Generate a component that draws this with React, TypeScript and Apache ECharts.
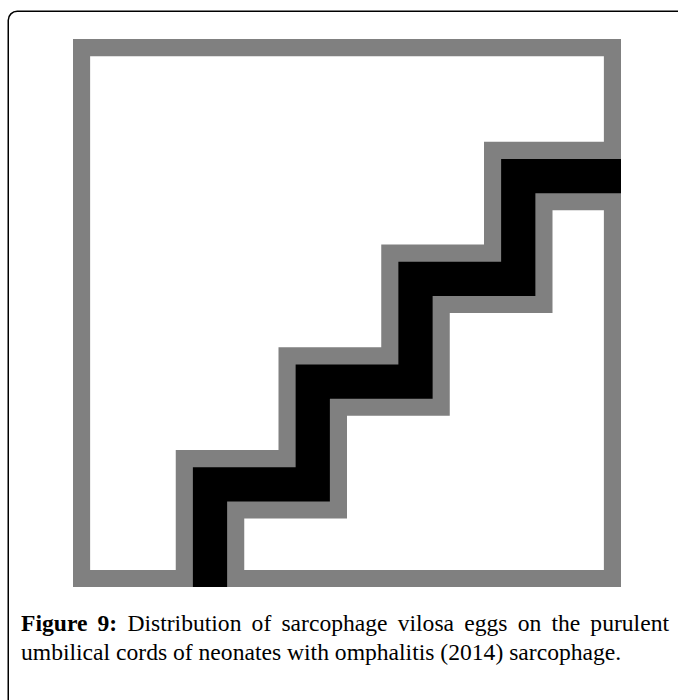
import React, { useEffect, useRef } from "react";
import * as echarts from "echarts";

// ---- data (in axis units, axis spans 0..16 on both sides) ----
const axisMin = 0;
const axisMax = 16;
const stairX = [4, 4, 7, 7, 10, 10, 13, 13, 16];
const stairY = [0, 3, 3, 6, 6, 9, 9, 12, 12];
const frameX = [0.25, 0.25, 15.75, 15.75, 0.25];
const frameY = [0.25, 15.75, 15.75, 0.25, 0.25];

const captionBoldWords = ["Figure", "9:"];
const captionLine1Words = ["Distribution", "of", "sarcophage", "vilosa", "eggs", "on", "the", "purulent"];
const captionLine2 = "umbilical cords of neonates with omphalitis (2014) sarcophage.";

const GRAY = "#808080";
const BLACK = "#000000";
const FAMILY = '"Liberation Serif", "Times New Roman", serif';

export default function App() {
  const ref = useRef<HTMLDivElement>(null);

  useEffect(() => {
    document.body.style.margin = "0";
    if (!ref.current) return;
    const chart = echarts.init(ref.current, undefined, { renderer: "svg", width: 678, height: 700 });

    const gridLeft = 73;
    const gridTop = 39;
    const gridSize = 548;
    const unit = gridSize / (axisMax - axisMin);

    // caption layout
    const canvas = document.createElement("canvas");
    const ctx = canvas.getContext("2d")!;
    const measure = (t: string, size: number, bold: boolean) => {
      ctx.font = `${bold ? "bold " : ""}${size}px ${FAMILY}`;
      return ctx.measureText(t).width;
    };
    const textLeft = 21;
    const line2Right = 621;
    const line1Right = 669;
    const fontSize = Math.round((20 * (line2Right - textLeft)) / measure(captionLine2, 20, false) * 10) / 10;

    const words = [
      ...captionBoldWords.map((w) => ({ w, bold: true })),
      ...captionLine1Words.map((w) => ({ w, bold: false })),
    ];
    const widths = words.map((o) => measure(o.w, fontSize, o.bold));
    const total = widths.reduce((a, b) => a + b, 0);
    const gap = (line1Right - textLeft - total) / (words.length - 1);
    const line1Y = 623;
    const line2Y = 652;
    const graphics: any[] = [];
    let cx = textLeft;
    words.forEach((o, i) => {
      graphics.push({
        type: "text",
        x: cx,
        y: line1Y,
        style: {
          text: o.w,
          fontSize,
          fontFamily: FAMILY,
          fontWeight: o.bold ? "bold" : "normal",
          fill: BLACK,
          align: "left",
          verticalAlign: "middle",
        },
      });
      cx += widths[i] + gap;
    });
    graphics.push({
      type: "text",
      x: textLeft,
      y: line2Y,
      style: {
        text: captionLine2,
        fontSize,
        fontFamily: FAMILY,
        fill: BLACK,
        align: "left",
        verticalAlign: "middle",
      },
    });
    graphics.push({
      type: "rect",
      shape: { x: 8.25, y: 11.25, width: 720, height: 740, r: 9 },
      style: { fill: "none", stroke: BLACK, lineWidth: 1.5 },
      silent: true,
    });

    const toPairs = (xs: number[], ys: number[]) => xs.map((x, i) => [x, ys[i]]);

    chart.setOption({
      animation: false,
      backgroundColor: "#ffffff",
      grid: { left: gridLeft, top: gridTop, width: gridSize, height: gridSize, show: false },
      xAxis: { type: "value", min: axisMin, max: axisMax, show: false },
      yAxis: { type: "value", min: axisMin, max: axisMax, show: false },
      series: [
        {
          type: "line",
          data: toPairs(frameX, frameY),
          symbol: "none",
          clip: false,
          silent: true,
          lineStyle: { color: GRAY, width: unit / 2, cap: "square", join: "miter" },
          z: 1,
        },
        {
          type: "line",
          data: toPairs(stairX, stairY),
          symbol: "none",
          clip: false,
          silent: true,
          lineStyle: { color: GRAY, width: unit * 2, cap: "butt", join: "miter" },
          z: 2,
        },
        {
          type: "line",
          data: toPairs(stairX, stairY),
          symbol: "none",
          clip: false,
          silent: true,
          lineStyle: { color: BLACK, width: unit, cap: "butt", join: "miter" },
          z: 3,
        },
      ],
      graphic: graphics,
    });

    return () => chart.dispose();
  }, []);

  return <div ref={ref} style={{ width: 678, height: 700 }} />;
}
